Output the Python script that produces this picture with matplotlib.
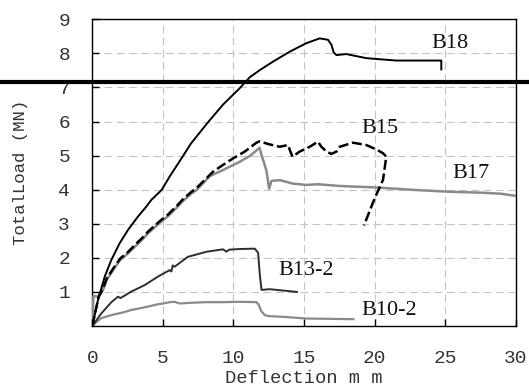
import matplotlib
matplotlib.use('Agg')
import matplotlib.pyplot as plt

# ====================================================================
# data
# ====================================================================
b18_x = [0, 0.40, 0.88, 1.35, 1.94, 2.53, 3.23, 3.82, 4.18, 4.91, 5.5, 6.1, 7.0, 8.2, 9.27,
         10.45, 11.16, 11.87, 12.81, 13.99, 15.17, 16.11, 16.70, 16.95, 17.10, 17.30, 18.00,
         19.42, 21.54, 24.73, 24.73]
b18_y = [0, 0.76, 1.45, 1.94, 2.43, 2.82, 3.21, 3.50, 3.70, 3.99, 4.40, 4.78, 5.36, 5.98, 6.50,
         6.98, 7.30, 7.51, 7.76, 8.05, 8.30, 8.44, 8.40, 8.25, 8.03, 7.95, 7.98,
         7.86, 7.79, 7.79, 7.53]

b17_x = [0, 0.08, 0.45, 0.76, 1.02, 1.6, 2.0, 2.5, 3.0, 3.5, 4.0, 4.79, 5.36, 6.0, 6.4, 7.0, 7.39,
         8.33, 9.27, 10.45, 11.2, 11.85, 12.0, 12.2, 12.34, 12.53, 12.7, 13.3, 14.2, 15.17,
         16.0, 17.53, 18.6, 19.89, 21.07, 22.96, 25.31, 27.67, 29.0, 30.0]
b17_y = [0, 0.88, 0.86, 1.06, 1.35, 1.72, 1.95, 2.12, 2.32, 2.52, 2.74, 3.03, 3.22, 3.48, 3.66, 3.88, 3.99,
         4.40, 4.58, 4.82, 5.0, 5.23, 5.0, 4.75, 4.55, 4.03, 4.26, 4.28, 4.18, 4.14,
         4.16, 4.11, 4.09, 4.07, 4.04, 3.99, 3.94, 3.91, 3.88, 3.82]

b15_x = [0, 0.45, 0.76, 1.02, 1.6, 2.0, 2.5, 3.0, 3.5, 4.0, 4.79, 5.36, 6.0, 6.4, 7.0, 7.39,
         8.56, 9.27, 9.98, 10.81, 11.63, 11.87, 12.46, 13.28, 13.87, 14.0, 14.18, 14.70,
         15.41, 15.99, 16.23, 16.59, 16.94, 17.30, 17.53, 18.47, 19.42, 20.13, 20.60, 20.83,
         20.60, 20.01, 19.25]
b15_y = [0, 0.86, 1.10, 1.40, 1.76, 1.99, 2.16, 2.37, 2.57, 2.79, 3.08, 3.27, 3.53, 3.71, 3.93, 4.05,
         4.53, 4.73, 4.92, 5.12, 5.38, 5.42, 5.34, 5.26, 5.31, 5.16, 4.97, 5.12,
         5.26, 5.41, 5.26, 5.12, 5.05, 5.12, 5.26, 5.38, 5.31, 5.18, 5.07, 4.97,
         4.29, 3.75, 2.95]

b13_x = [0, 0.64, 1.35, 1.82, 2.0, 2.76, 3.71, 4.65, 5.48, 5.6, 5.7, 5.83, 6.77, 8.10, 9.27,
         9.5, 9.7, 10.45, 11.51, 11.75, 11.87, 11.99, 12.58, 14.5]
b13_y = [0, 0.37, 0.70, 0.86, 0.82, 1.01, 1.20, 1.45, 1.64, 1.60, 1.78, 1.74, 2.03, 2.18, 2.25,
         2.18, 2.24, 2.26, 2.27, 2.15, 1.5, 1.06, 1.08, 1.0]

b10_x = [0, 0.3, 0.64, 1.35, 2.19, 2.76, 3.38, 3.94, 4.56, 5.12, 5.50, 5.83, 6.2, 6.91, 8.0,
         9.27, 10.5, 11.63, 11.8, 11.95, 12.22, 12.5, 13.52, 15.17, 18.5]
b10_y = [0, 0.12, 0.23, 0.32, 0.40, 0.47, 0.52, 0.57, 0.63, 0.67, 0.70, 0.71, 0.66, 0.68, 0.70,
         0.70, 0.71, 0.70, 0.62, 0.45, 0.32, 0.29, 0.27, 0.22, 0.20]

ref_level = 7.17

labels = ['B18', 'B15', 'B17', 'B13-2', 'B10-2']
label_x = [24.0, 19.1, 25.5, 13.2, 19.1]
label_y = [8.3, 5.81, 4.49, 1.64, 0.45]

x_ticks = [0, 5, 10, 15, 20, 25, 30]
y_ticks = [1, 2, 3, 4, 5, 6, 7, 8, 9]

# ====================================================================
# plot
# ====================================================================
mono = 'Liberation Mono'
serif = 'Liberation Serif'
txt_color = '#333333'
gray = '#8a8a8a'

fig = plt.figure(figsize=(5.29, 3.87), dpi=100)
ax = fig.add_axes([0.1745, 0.1576, 0.8003, 0.7925])

ax.plot(b17_x, b17_y, color=gray, lw=1.8, zorder=3)
ax.plot(b10_x, b10_y, color=gray, lw=1.6, zorder=3)
ax.plot(b13_x, b13_y, color='#2e2e2e', lw=1.4, zorder=4)
ax.plot(b18_x, b18_y, color='black', lw=1.4, zorder=4)
ax.plot(b15_x, b15_y, color='black', lw=1.8, linestyle=(0, (4, 1.5)), zorder=5)

# thick reference line running across the whole figure
ax.axhline(ref_level, xmin=-0.22, xmax=1.04, color='black', lw=3, clip_on=False, zorder=6)

for name, lx, ly in zip(labels, label_x, label_y):
    ax.text(lx, ly, name, fontsize=16, family=serif, color='#111111', ha='left', va='center')

ax.set_xlim(0, 30)
ax.set_ylim(0, 9)
ax.set_xticks(x_ticks)
ax.set_yticks(y_ticks)
ax.tick_params(axis='both', direction='in', length=5, width=1, labelsize=14, colors='black',
               labelcolor=txt_color)
ax.tick_params(axis='x', pad=17)
ax.tick_params(axis='y', pad=16)
for lab in ax.get_xticklabels() + ax.get_yticklabels():
    lab.set_family(mono)

ax.grid(True, color='#c4c4c4', lw=0.8, linestyle=(0, (7, 4)))
ax.set_axisbelow(True)
for sp in ax.spines.values():
    sp.set_linewidth(1)

ax.set_xlabel('Deflection m m', family=mono, fontsize=13.5, color=txt_color)
ax.set_ylabel('TotalLoad (MN)', family=mono, fontsize=12.5, color=txt_color)
ax.xaxis.set_label_coords(0.5, -0.145)
ax.yaxis.set_label_coords(-0.152, 0.5)

plt.savefig('out.png', dpi=100)
plt.close()
